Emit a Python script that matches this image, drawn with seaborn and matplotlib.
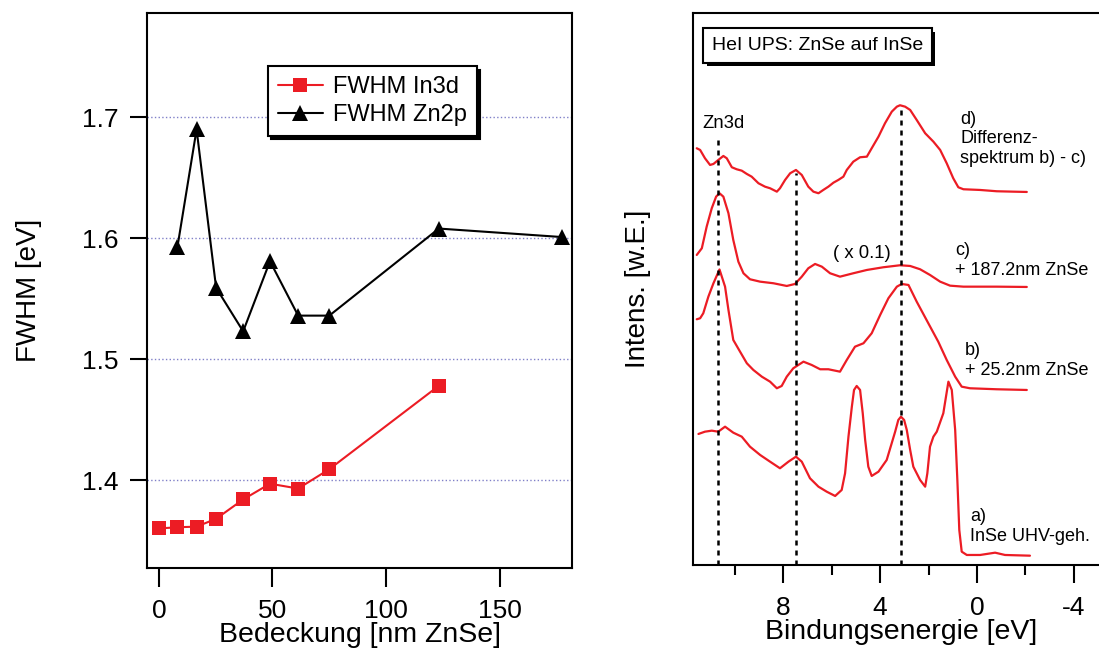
import matplotlib
matplotlib.use("Agg")
import matplotlib.pyplot as plt
import matplotlib.patheffects as pe
from matplotlib.ticker import MultipleLocator
import seaborn as sns

# --- left panel: FWHM vs. ZnSe coverage ---
coverage_in3d = [0, 8.2, 16.6, 25.2, 37.1, 48.9, 61.3, 75.0, 123.2]
fwhm_in3d = [1.360, 1.361, 1.3615, 1.368, 1.384, 1.397, 1.393, 1.409, 1.478]
coverage_zn2p = [8.2, 16.6, 25.2, 37.1, 48.9, 61.3, 75.0, 123.2, 177.2]
fwhm_zn2p = [1.593, 1.690, 1.559, 1.523, 1.581, 1.536, 1.536, 1.608, 1.601]
fwhm_ticks = [1.4, 1.5, 1.6, 1.7]
coverage_ticks = [0, 50, 100, 150]

# --- right panel: HeI UPS spectra (binding energy in eV, intensity arb. units, stacked) ---
energy_a = [11.51, 11.24, 10.96, 10.69, 10.41, 10.07, 9.72, 9.38, 8.96, 8.55, 8.14, 7.79,
            7.48, 7.24, 6.90, 6.55, 6.21, 5.86, 5.59, 5.45, 5.31, 5.17, 5.08, 4.97, 4.83,
            4.72, 4.62, 4.49, 4.35, 4.07, 3.73, 3.38, 3.25, 3.14, 3.01, 2.90, 2.76, 2.63,
            2.35, 2.14, 2.05, 1.94, 1.80, 1.66, 1.39, 1.18, 1.04, 0.90, 0.81, 0.73, 0.63,
            0.42, -0.13, -0.75, -1.16, -2.19]
intens_a = [131, 133.3, 134.3, 133.3, 138.3, 132.3, 128.3, 118.3, 110, 103.3, 96.7, 103.3,
            108.3, 103.3, 86.7, 78.3, 73.3, 69, 75, 91.7, 128.3, 158.3, 175, 179, 175,
            151.7, 125, 98.3, 89, 93.3, 105, 133.3, 145, 148.3, 145, 135, 115, 98.3,
            85, 78.3, 91.7, 118.3, 128.3, 133.3, 151.7, 183.3, 175, 135, 85, 35, 13.3,
            10, 10, 12.3, 10, 9.3]

energy_b = [11.58, 11.44, 11.31, 11.10, 10.89, 10.64, 10.41, 10.27, 10.07, 9.79, 9.51, 9.24,
            8.89, 8.55, 8.27, 8.07, 7.86, 7.59, 7.17, 6.83, 6.48, 6.14, 5.66, 5.38, 5.04,
            4.69, 4.35, 4.00, 3.66, 3.31, 3.11, 2.83, 2.49, 2.01, 1.60, 1.25, 0.90, 0.63,
            0.29, -0.82, -2.06]
intens_b = [245.7, 246.7, 251.7, 268.3, 281.7, 295.5, 278.3, 255, 225, 213.3, 201.7, 195,
            188.3, 183.3, 176.7, 179, 188.3, 196.7, 203.3, 200, 195.7, 195.7, 193.3, 205, 218.3,
            221.7, 231.7, 250, 266.7, 278.3, 281, 280, 263.3, 241.7, 223.3, 205, 188.3, 178.3,
            176.7, 175.7, 175]

energy_c = [11.58, 11.37, 11.17, 10.96, 10.78, 10.64, 10.48, 10.27, 10.07, 9.86, 9.65, 9.38,
            8.96, 8.41, 7.86, 7.52, 7.24, 6.97, 6.69, 6.41, 6.07, 5.66, 5.11, 4.55, 3.87,
            3.18, 2.76, 2.35, 1.94, 1.52, 1.11, 0.56, -0.82, -2.06]
intens_c = [310, 316.7, 338.3, 356.7, 368.3, 371.7, 368.3, 351.7, 325, 303.3, 291.7, 285.7,
            283.3, 281.7, 279, 281, 288.3, 296.7, 301, 298.3, 291.7, 288.3, 291.7, 295, 297.7,
            299.7, 299, 295.7, 290, 283.3, 279.3, 278.3, 278.3, 278]

energy_d = [11.58, 11.44, 11.24, 11.03, 10.89, 10.69, 10.48, 10.34, 10.13, 9.93, 9.72, 9.51,
            9.31, 9.03, 8.76, 8.55, 8.27, 8.14, 7.93, 7.72, 7.48, 7.24, 6.97, 6.76, 6.55,
            6.35, 6.14, 5.93, 5.73, 5.52, 5.38, 5.11, 4.83, 4.55, 4.35, 4.07, 3.80, 3.52,
            3.31, 3.18, 2.97, 2.76, 2.49, 2.14, 1.80, 1.52, 1.25, 0.98, 0.77, 0.56, -0.13,
            -0.82, -1.50, -2.06]
intens_d = [416.7, 415, 406.7, 400, 401, 405, 409, 406.7, 397.7, 395.7, 394.3, 391,
            388.3, 381.7, 378.3, 376.7, 373.3, 376.7, 385, 391.7, 395, 390, 378.3, 373.3, 371.7,
            375, 378.3, 382.3, 385, 388.3, 395, 403.3, 407.7, 408.3, 416.7, 428.3, 441.7, 453.3,
            458.3, 459.7, 458.3, 455, 445, 431.7, 423.3, 415, 401.7, 386.7, 377.7, 375.7, 375,
            373.7, 373.3, 373]

# dotted guide lines (energy, height reached)
guide_energy = [10.69, 7.46, 3.14]
guide_top = [430, 392, 457]

spectrum_labels = ["a)\nInSe UHV-geh.", "b)\n+ 25.2nm ZnSe",
                   "c)\n+ 187.2nm ZnSe", "d)\nDifferenz-\nspektrum b) - c)"]

RED = "#ec1c24"

sns.set_theme(style="ticks")
plt.rcParams["font.family"] = ["Liberation Sans", "DejaVu Sans"]
plt.rcParams["axes.linewidth"] = 1.5
plt.rcParams["axes.unicode_minus"] = False
for key in ["text.color", "axes.labelcolor", "xtick.color", "ytick.color", "axes.edgecolor"]:
    plt.rcParams[key] = "black"

fig = plt.figure(figsize=(10.99, 6.53), dpi=100)

# ---------------- left panel ----------------
ax1 = fig.add_axes([0.1342, 0.1309, 0.3867, 0.8491])
sns.lineplot(x=coverage_in3d, y=fwhm_in3d, color=RED, marker="s", markersize=10.5,
             markeredgewidth=0, linewidth=1.5, sort=False, estimator=None,
             label="FWHM In3d", ax=ax1)
sns.lineplot(x=coverage_zn2p, y=fwhm_zn2p, color="black", marker="^", markersize=11,
             markeredgewidth=0, linewidth=1.5, sort=False, estimator=None,
             label="FWHM Zn2p", ax=ax1)
ax1.set_xlim(-5, 182)
ax1.set_ylim(1.3277, 1.7862)
ax1.set_xticks(coverage_ticks)
ax1.set_yticks(fwhm_ticks)
ax1.grid(axis="y", linestyle=":", color="#8080c8", linewidth=1)
ax1.tick_params(axis="x", direction="out", length=14, width=1.5, pad=9, labelsize=19)
ax1.tick_params(axis="y", direction="out", length=12, width=1.5, pad=9, labelsize=19)
for s in ax1.spines.values():
    s.set_visible(True)
    s.set_color("black")
ax1.set_xlabel("Bedeckung [nm ZnSe]", fontsize=20.5)
ax1.xaxis.set_label_coords(0.5, -0.098)
ax1.set_ylabel("FWHM [eV]", fontsize=20)
ax1.yaxis.set_label_coords(-0.248, 0.5)
leg = ax1.legend(loc="upper left", bbox_to_anchor=(0.283, 0.9044), borderaxespad=0,
                 fontsize=17, frameon=True, fancybox=False, handlelength=1.9,
                 handletextpad=0.45, borderpad=0.42, labelspacing=0.25,
                 shadow={"color": "black", "alpha": 1, "ox": 2.5, "oy": -2.5})
leg.get_frame().set_edgecolor("black")
leg.get_frame().set_linewidth(1.5)
leg.get_frame().set_alpha(1)

# ---------------- right panel ----------------
ax2 = fig.add_axes([0.6309, 0.1348, 0.3710, 0.8446])
for e, i in [(energy_a, intens_a), (energy_b, intens_b), (energy_c, intens_c), (energy_d, intens_d)]:
    sns.lineplot(x=e, y=i, color=RED, linewidth=1.6, sort=False, estimator=None, ax=ax2)
ax2.vlines(guide_energy, 0, guide_top, colors="black", linestyles=(0, (2, 2)), linewidth=1.8)
ax2.set_xlim(11.72, -5.13)
ax2.set_ylim(0, 551.5)
ax2.xaxis.set_major_locator(MultipleLocator(4))
ax2.xaxis.set_minor_locator(MultipleLocator(2))
ax2.tick_params(axis="x", which="major", direction="out", length=13, width=1.5, pad=9, labelsize=19)
ax2.tick_params(axis="x", which="minor", direction="out", length=7.5, width=1.5)
ax2.set_yticks([])
for s in ax2.spines.values():
    s.set_visible(True)
    s.set_color("black")
ax2.set_xlabel("Bindungsenergie [eV]", fontsize=20.5)
ax2.xaxis.set_label_coords(0.509, -0.098)
ax2.set_ylabel("Intens. [w.E.]", fontsize=20)
ax2.yaxis.set_label_coords(-0.104, 0.5)

title = ax2.text(0.3044, 0.942, "HeI UPS: ZnSe auf InSe", transform=ax2.transAxes,
                 ha="center", va="center", fontsize=14,
                 bbox=dict(boxstyle="square,pad=0.45", facecolor="white",
                           edgecolor="black", linewidth=1.5))
title.get_bbox_patch().set_path_effects([
    pe.SimplePatchShadow(offset=(2.5, -2.5), shadow_rgbFace="black", alpha=1),
    pe.Normal()])

ax2.text(11.33, 441.7, "Zn3d", ha="left", va="center", fontsize=13.3)
ax2.text(4.75, 311.7, "( x 0.1)", ha="center", va="center", fontsize=13.3)
label_pos = [(0.28, 38.3), (0.50, 204.7), (0.91, 304.2), (0.70, 426.3)]
for txt, (x, y) in zip(spectrum_labels, label_pos):
    ax2.text(x, y, txt, ha="left", va="center", fontsize=13, linespacing=1.2)

fig.savefig("out.png", dpi=100)
